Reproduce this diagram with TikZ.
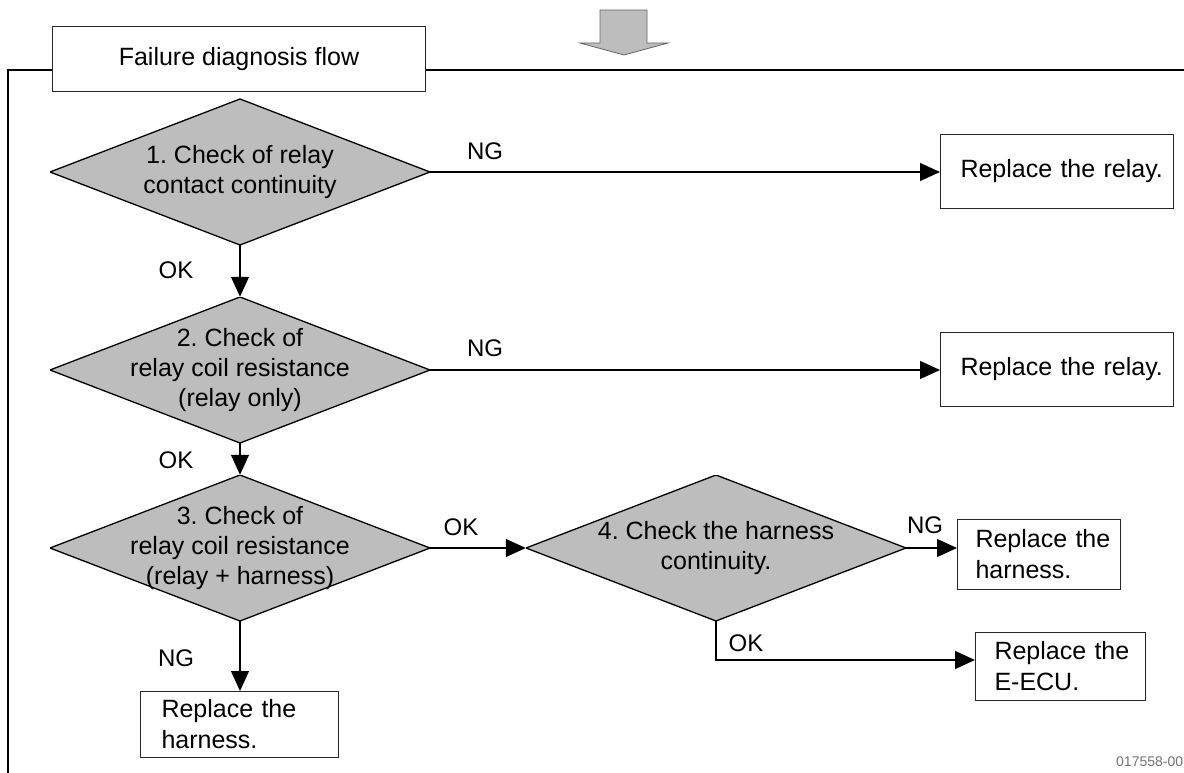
\documentclass[tikz,border=0pt]{standalone}
\usepackage{fontspec}
\setmainfont{Liberation Sans}
\usetikzlibrary{arrows.meta}
\frenchspacing
\definecolor{diagray}{gray}{0.74}
\newcommand{\mfnt}{\fontsize{25}{30}\selectfont}
\newcommand{\bfnt}{\fontsize{25}{31}\selectfont}
\newcommand{\lfnt}{\fontsize{24}{28}\selectfont}
\tikzset{
  dia/.style={rectangle, minimum width=380pt, minimum height=146pt, inner sep=0pt,
    align=center, font=\mfnt,
    path picture={\draw[fill=diagray, line width=1.3pt]
      (path picture bounding box.west) -- (path picture bounding box.north) --
      (path picture bounding box.east) -- (path picture bounding box.south) -- cycle;}},
  rbox/.style={draw=black!85, line width=1pt, fill=white, anchor=north west,
    inner ysep=0pt, align=left, font=\bfnt},
  con/.style={line width=1.2pt, -{Triangle[length=20pt,width=18pt]}},
  plain/.style={line width=1.2pt},
  lbl/.style={font=\lfnt, inner sep=0pt}
}
\begin{document}
\begin{tikzpicture}[x=1pt,y=-1pt]
\useasboundingbox (0,0) rectangle (1184,773);
% frame
\coordinate (fbl) at (8,773);
\coordinate (ftl) at (8,70);
\coordinate (ftr) at (1184,70);
\draw[plain] (fbl) -- (ftl) -- (ftr);
% title
\node[draw=black!85, line width=1pt, fill=white, anchor=north west,
  minimum width=373pt, minimum height=65pt, font=\mfnt, inner sep=0pt] (title) at (52,26) {Failure diagnosis flow};
% top arrow
\draw[fill=diagray, draw=black!60, line width=0.8pt]
  (600,10) -- (647,10) -- (647,43) -- (668,43) -- (624,55) -- (580,43) -- (600,43) -- cycle;
% diamonds
\node[dia] (d1) at (240,172) {1. Check of relay\\contact continuity};
\node[dia] (d2) at (240,370) {2. Check of\\relay coil resistance\\(relay only)};
\node[dia] (d3) at (240,548) {3. Check of\\relay coil resistance\\(relay + harness)};
\node[dia] (d4) at (716,548) {4. Check the harness\\continuity.};
% boxes
\node[rbox, minimum width=233pt, minimum height=74pt, text width=193pt, inner xsep=20pt] (r1) at (940,134) {\mbox{Replace the relay.}};
\node[rbox, minimum width=233pt, minimum height=74pt, text width=193pt, inner xsep=20pt] (r2) at (940,332) {\mbox{Replace the relay.}};
\node[rbox, minimum width=163pt, minimum height=70pt, text width=127pt, inner xsep=18pt] (h1) at (957,519) {\mbox{Replace the}\\\mbox{harness.}};
\node[rbox, minimum width=170pt, minimum height=68pt, text width=132pt, inner xsep=19pt] (e1) at (975,632) {\mbox{Replace the}\\\mbox{E-ECU.}};
\node[rbox, minimum width=198pt, minimum height=66pt, text width=156pt, inner xsep=21pt] (h2) at (140,691) {\mbox{Replace the}\\\mbox{harness.}};
% connectors
\draw[con] (d1.east) -- (d1.east -| r1.west);
\draw[con] (d2.east) -- (d2.east -| r2.west);
\draw[con] (d1.south) -- (d2.north);
\draw[con] (d2.south) -- (d3.north);
\draw[con] (d3.east) -- (d4.west);
\draw[con] (d4.east) -- (d4.east -| h1.west);
\draw[con] (d4.south) |- ([yshift=-28pt]e1.north west);
\draw[con] (d3.south) -- (d3.south |- h2.north);
% labels
\node[lbl] (l1) at (485,151) {NG};
\node[lbl] (l2) at (485,348) {NG};
\node[lbl] (l3) at (176,270) {OK};
\node[lbl] (l4) at (176,460) {OK};
\node[lbl] (l5) at (461,527) {OK};
\node[lbl] (l6) at (925,525) {NG};
\node[lbl] (l7) at (746,643) {OK};
\node[lbl] (l8) at (176,658) {NG};
\node[font=\fontsize{14}{16}\selectfont, text=black!55, anchor=west, inner sep=0pt] (code) at (1116,762) {017558-00};
\end{tikzpicture}
\end{document}
